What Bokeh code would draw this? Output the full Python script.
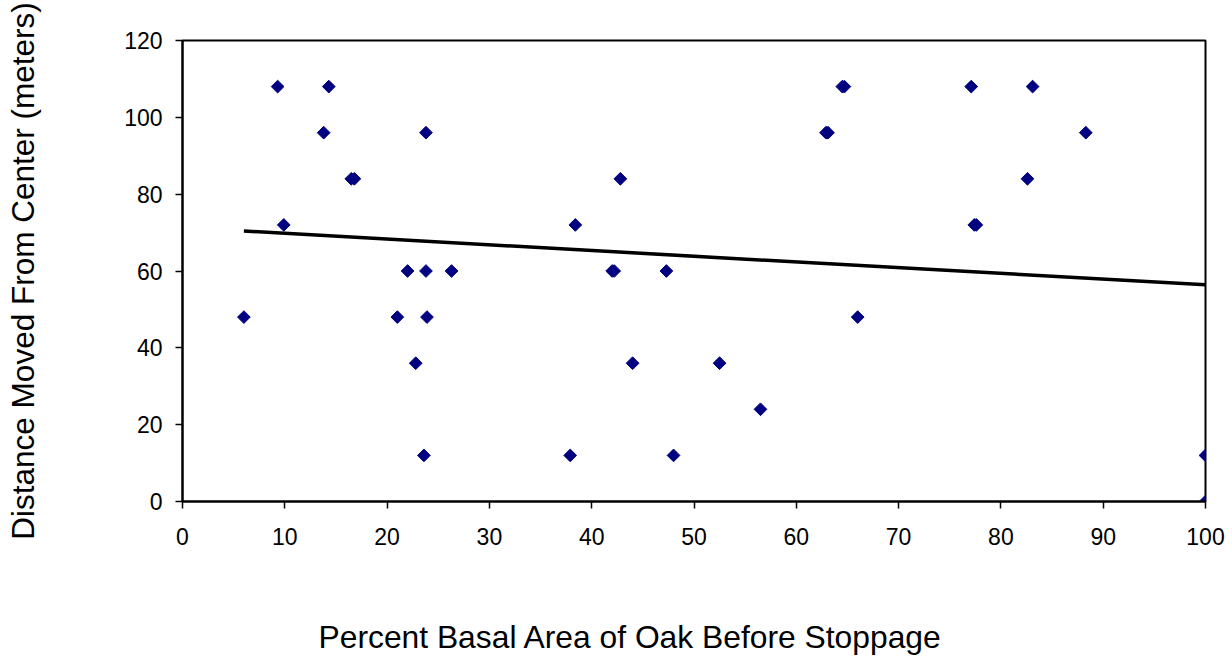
from bokeh.plotting import figure
from bokeh.models import Range1d, FixedTicker, Title
from bokeh.embed import file_html
from bokeh.resources import INLINE
import numpy as np

# Data
oak_pct = [6.0, 9.3, 9.9, 13.8, 14.3, 16.5, 16.8, 21.0, 22.0, 22.8, 23.6, 23.8, 23.8,
           23.9, 26.3, 37.9, 38.4, 42.0, 42.2, 42.8, 44.0, 47.3, 48.0, 52.5, 56.5,
           62.9, 63.1, 64.5, 64.7, 66.0, 77.1, 77.4, 77.6, 82.6, 83.1, 88.3, 100.0, 100.0]
distance_m = [48, 108, 72, 96, 108, 84, 84, 48, 60, 36, 12, 96, 60,
              48, 60, 12, 72, 60, 60, 84, 36, 60, 12, 36, 24,
              96, 96, 108, 108, 48, 108, 72, 72, 84, 108, 96, 12, 0]

trend_x = [6.0, 100.0]
trend_y = [70.4, 56.4]

x_ticks = [0, 10, 20, 30, 40, 50, 60, 70, 80, 90, 100]
y_ticks = [0, 20, 40, 60, 80, 100, 120]

x_title = "Percent Basal Area of Oak Before Stoppage"
y_title = "Distance Moved From Center (meters)"

FONT = "Liberation Sans"

p = figure(width=1232, height=658, output_backend="svg", toolbar_location=None,
           x_range=Range1d(0, 100), y_range=Range1d(0, 120),
           min_border_left=182, min_border_right=27, min_border_top=40,
           min_border_bottom=156)
p.background_fill_color = "white"
p.border_fill_color = "white"
p.grid.visible = False
p.outline_line_color = "black"
p.outline_line_width = 2
p.outline_line_alpha = 1.0

for ax in (p.xaxis[0], p.yaxis[0]):
    ax.axis_line_color = "black"
    ax.axis_line_width = 2
    ax.major_tick_line_color = "black"
    ax.major_tick_line_width = 1.5
    ax.major_tick_in = 0
    ax.major_tick_out = 7
    ax.minor_tick_line_color = None
    ax.major_label_text_font = FONT
    ax.major_label_text_font_size = "23px"
    ax.major_label_text_color = "black"

p.xaxis[0].ticker = FixedTicker(ticks=x_ticks)
p.yaxis[0].ticker = FixedTicker(ticks=y_ticks)
p.xaxis[0].major_label_standoff = 19
p.yaxis[0].major_label_standoff = 13

p.yaxis[0].axis_label = y_title
p.yaxis[0].axis_label_text_font = FONT
p.yaxis[0].axis_label_text_font_size = "31.5px"
p.yaxis[0].axis_label_text_font_style = "normal"
p.yaxis[0].axis_label_text_color = "black"
p.yaxis[0].axis_label_standoff = 80

# thin spacer title, then the x title (left-aligned with an offset, as in the reference)
p.add_layout(Title(text="\u00a0", text_font_size="1px", standoff=62), "below")
p.add_layout(Title(text=x_title, align="left", offset=136, vertical_align="bottom",
                   text_font=FONT, text_font_size="31.8px", text_font_style="normal",
                   text_color="black", standoff=8), "below")

p.line(trend_x, trend_y, line_color="black", line_width=3.5)
p.scatter(oak_pct, distance_m, marker="square", angle=np.pi / 4, size=9,
          fill_color="#000080", line_color="#000080")

open("out.html", "w").write(file_html(p, INLINE))
